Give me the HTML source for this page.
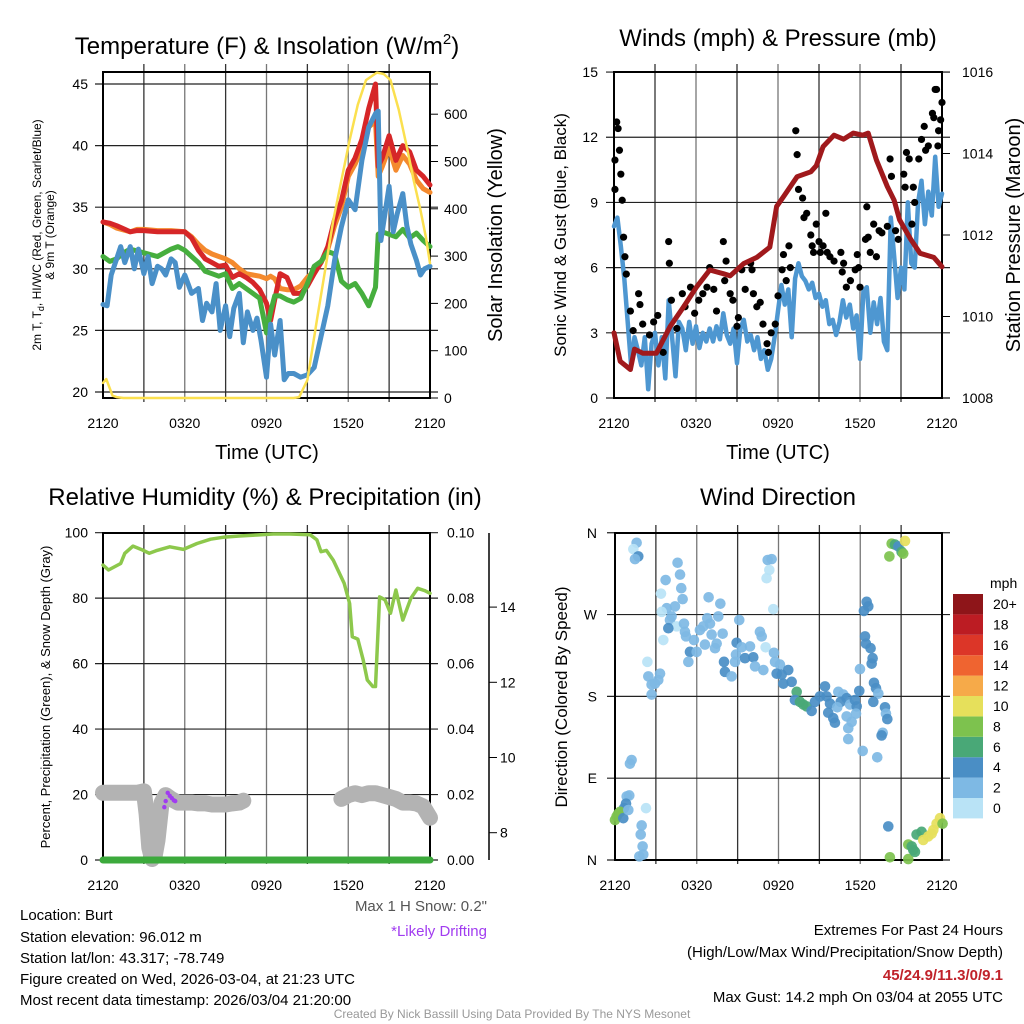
<!DOCTYPE html>
<html><head><meta charset="utf-8"><style>
body{margin:0;background:#fff;}
svg{display:block;font-family:"Liberation Sans",Arial,sans-serif;}
</style></head><body>
<svg id="c" width="1024" height="1024" viewBox="0 0 1024 1024" xmlns="http://www.w3.org/2000/svg">
<rect width="1024" height="1024" fill="#fff"/>
<g id="layer"></g>
<text x="267" y="54" font-size="24" text-anchor="middle">Temperature (F) &amp; Insolation (W/m<tspan font-size="15" dy="-10">2</tspan><tspan dy="10">)</tspan></text>
<text x="778" y="46" font-size="24" text-anchor="middle">Winds (mph) &amp; Pressure (mb)</text>
<text x="265" y="505" font-size="24" text-anchor="middle">Relative Humidity (%) &amp; Precipitation (in)</text>
<text x="778" y="505" font-size="24" text-anchor="middle">Wind Direction</text>
<text x="267" y="459" font-size="20" text-anchor="middle">Time (UTC)</text>
<text x="778" y="459" font-size="20" text-anchor="middle">Time (UTC)</text>
<text transform="translate(41,235) rotate(-90)" font-size="12" text-anchor="middle">2m T, T<tspan font-size="9" dy="3">d</tspan><tspan dy="-3">, HI/WC (Red, Green, Scarlet/Blue)</tspan></text>
<text transform="translate(54,235) rotate(-90)" font-size="12" text-anchor="middle">&amp; 9m T (Orange)</text>
<text transform="translate(502,235) rotate(-90)" font-size="20" text-anchor="middle">Solar Insolation (Yellow)</text>
<text transform="translate(566,235) rotate(-90)" font-size="17" text-anchor="middle">Sonic Wind &amp; Gust (Blue, Black)</text>
<text transform="translate(1020,235) rotate(-90)" font-size="20" text-anchor="middle">Station Pressure (Maroon)</text>
<text transform="translate(50,697) rotate(-90)" font-size="13" text-anchor="middle">Percent, Precipitation (Green), &amp; Snow Depth (Gray)</text>
<text transform="translate(567,697) rotate(-90)" font-size="17" text-anchor="middle">Direction (Colored By Speed)</text>
<text x="487" y="911" font-size="15" fill="#555" text-anchor="end">Max 1 H Snow: 0.2"</text>
<text x="487" y="936" font-size="15" fill="#a13cf0" text-anchor="end">*Likely Drifting</text>
<g font-size="15">
<text x="20" y="920">Location: Burt</text>
<text x="20" y="942">Station elevation: 96.012 m</text>
<text x="20" y="963">Station lat/lon: 43.317; -78.749</text>
<text x="20" y="984">Figure created on Wed, 2026-03-04, at 21:23 UTC</text>
<text x="20" y="1005">Most recent data timestamp: 2026/03/04 21:20:00</text>
</g>
<g font-size="15" text-anchor="end">
<text x="1003" y="935">Extremes For Past 24 Hours</text>
<text x="1003" y="957">(High/Low/Max Wind/Precipitation/Snow Depth)</text>
<text x="1003" y="980" fill="#c0222a" font-weight="bold">45/24.9/11.3/0/9.1</text>
<text x="1003" y="1002">Max Gust: 14.2 mph On 03/04 at 2055 UTC</text>
</g>
<text x="512" y="1018" font-size="12" fill="#999" text-anchor="middle">Created By Nick Bassill Using Data Provided By The NYS Mesonet</text>
</svg>
<script>
var xTickLabels = ['2120','0320','0920','1520','2120'];
var tempTicks = [20,25,30,35,40,45];
var solarTicks = [0,100,200,300,400,500,600];
var windTicks = [0,3,6,9,12,15];
var presTicks = [1008,1010,1012,1014,1016];
var rhTicks = [0,20,40,60,80,100];
var precipTickLabels = ['0.00','0.02','0.04','0.06','0.08','0.10'];
var snowTicks = [8,10,12,14];
var dirTicks = [0,90,180,270,360];
var dirTickLabels = ['N','E','S','W','N'];
var speedLegendLabels = ['0','2','4','6','8','10','12','14','16','18','20+'];

var tHours = [0,0.5,1,2,2.5,3,4,5,6,6.5,7,7.5,8,8.5,9,9.5,10,10.5,11,11.5,12,12.3,12.6,13,13.5,14,14.5,15,15.5,16,16.5,17,17.5,18,18.5,19,19.5,20,20.2,20.5,21,21.5,22,22.5,23,23.5,24];
var tempRed = [33.8,33.7,33.5,33.0,33.1,33.1,33.0,33.0,33.0,32.5,31.5,30.8,30.5,30.2,30.3,29.3,29.6,29.3,28.9,28.3,27.2,25.8,27.5,29.6,29.3,28.0,28.0,28.6,29.6,30.5,31.8,34,35.5,38.0,39,40.5,43,45,38.3,39,40.8,38.8,40.0,39.5,38.0,37.5,36.8];
var tempOrange = [33.8,33.6,33.3,33.0,33.2,33.2,33.1,33.1,33.0,32.6,32.0,31.5,31.2,31.0,30.8,30.5,30.0,29.6,29.5,29.4,29.2,29.4,29.2,28.4,28.3,28.3,28.6,29.3,29.8,30.5,31.6,33.5,35.0,37.5,38.5,39.8,41.5,42,37.5,38.3,39.8,38.0,39.2,38.5,37.2,36.5,36.2];
var gHours = [0,0.5,1,1.5,2,3,4,5,5.5,6,6.5,7,7.5,8,8.5,9,9.5,10,10.5,11,11.5,12,12.3,12.6,13,13.5,14,14.5,15,15.5,16,16.5,17,17.5,18,18.5,19,19.5,20,20.2,20.5,21,21.5,22,22.5,23,23.5,24];
var dewGreen = [31.0,30.6,30.8,31.3,31.6,31.3,31.0,31.6,31.8,31.5,31.0,30.5,29.8,29.6,29.4,29.6,28.4,28.8,28.4,28.0,27.6,24.8,26.5,27.8,27.8,27.5,27.3,27.6,28.8,30.2,30.6,31.4,31.2,29.0,28.5,28.8,28.0,27.0,28.5,32.8,33.0,32.8,32.6,33.2,32.5,32.9,32.3,31.8];
var bHours = [0,0.3,0.6,1,1.3,1.6,2,2.3,2.6,3,3.3,3.6,4,4.3,4.6,5,5.3,5.6,6,6.5,7,7.3,7.6,8,8.3,8.6,9,9.3,9.6,10,10.3,10.6,11,11.3,11.6,12,12.3,12.6,13,13.3,13.6,14,14.5,15,15.5,16,16.5,17,17.5,18,18.5,19,19.5,20,20.2,20.4,20.7,21,21.3,21.6,22,22.3,22.6,23,23.3,23.6,24];
var windChillBlue = [27.1,27.0,29.5,30.8,31.8,30.5,31.8,30.0,31.6,29.6,31.0,28.8,30.2,30.0,29.5,30.8,30.5,28.5,29.5,28.0,28.4,25.8,27.2,26.5,28.8,25.0,27.0,24.5,26.8,28.0,24.0,26.5,25.0,26.0,24.2,21.2,25.5,23.0,25.8,21.0,21.5,21.5,21.2,21.4,22.0,24.5,27.0,30.7,33.4,35.6,34.8,38.8,41.5,42.6,42.8,32.3,34.5,36.7,33.0,34.5,36.1,33.5,32.0,30.7,29.5,30.0,30.2];
var sHours = [0,0.24,0.7,1,1.5,2,14,14.4,15,15.7,16.3,16.9,17.5,18.1,18.7,19.3,20.1,20.6,21.1,21.7,22.3,22.8,23.3,23.7,24];
var solar = [32,40,5,2,0,0,0,2,38,165,270,376,460,545,620,672,688,685,672,610,531,460,397,340,285];

var pHours = [0,0.45,1.2,1.5,2.1,3.1,4.1,5.1,6.05,7.0,8.0,8.5,9.5,10.45,11.4,11.9,12.4,13.4,14.4,14.8,15.3,16.1,16.8,17.5,18.2,18.6,19.2,20,20.5,20.9,21.7,22.4,23.4,24];
var pressure = [1009.6,1008.9,1008.7,1009.2,1009.1,1009.1,1009.75,1010.24,1010.73,1011.14,1011.05,1011.0,1011.3,1011.45,1011.7,1012.7,1012.94,1013.43,1013.55,1013.7,1014.17,1014.45,1014.35,1014.5,1014.45,1014.5,1013.84,1013.19,1012.85,1012.37,1011.9,1011.55,1011.45,1011.22];
var wHours = [0,0.25,0.5,0.75,1,1.25,1.5,1.75,2,2.25,2.5,2.75,3,3.25,3.5,3.75,4,4.25,4.5,4.75,5,5.25,5.5,5.75,6,6.25,6.5,6.75,7,7.25,7.5,7.75,8,8.25,8.5,8.75,9,9.25,9.5,9.75,10,10.25,10.5,10.75,11,11.25,11.5,11.75,12,12.25,12.5,12.75,13,13.25,13.5,13.75,14,14.25,14.5,14.75,15,15.25,15.5,15.75,16,16.25,16.5,16.75,17,17.25,17.5,17.75,18,18.25,18.5,18.75,19,19.25,19.5,19.75,20,20.25,20.5,20.75,21,21.25,21.5,21.75,22,22.25,22.5,22.75,23,23.25,23.5,23.75,24];
var windSpeed = [7.9,8.3,7.0,5.5,3.5,1.5,2.8,2.2,1.5,2.8,0.4,2.5,3.0,1.5,2.8,0.9,4.5,2.8,1.0,3.5,3.2,2.2,3.5,2.5,3.3,2.3,3.0,2.6,3.2,2.6,3.3,2.7,3.9,2.9,2.5,3.2,1.6,3.2,3.6,2.6,2.9,2.2,2.8,1.8,2.2,1.3,1.8,2.8,4.0,5.2,4.3,5.0,2.8,5.5,6.2,5.6,5.4,5.0,5.3,4.6,4.8,4.2,4.5,3.4,3.6,2.9,3.5,4.5,3.7,4.3,3.2,3.8,1.8,4.9,5.1,3.0,4.4,3.4,4.6,2.6,2.2,8.3,6.5,4.6,6.0,5.0,9.0,6.2,6.0,9.0,10.0,8.0,9.5,8.4,11.1,8.8,9.4];
var gustHours = [0.07,0.2,0.3,0.4,0.5,0.07,0.6,0.7,0.8,0.9,1.2,1.4,1.8,1.9,2.1,2.6,2.9,3.2,3.6,4.0,4.05,4.2,4.6,5,5.2,5.6,5.9,6.2,6.5,6.8,7.0,7.3,7.5,8.0,8.1,8.2,8.5,8.7,9.0,9.1,9.35,9.6,10.0,10.1,10.2,10.45,10.7,10.9,11.2,11.3,11.5,11.8,12.0,12.3,12.4,12.6,12.8,12.9,13.3,13.4,13.5,13.8,13.9,14.1,14.4,14.5,14.6,14.8,15.0,15.1,15.3,15.5,15.6,15.8,16.1,16.6,16.7,16.8,17.0,17.3,17.65,17.8,17.9,18.0,18.4,18.5,18.6,18.75,19.0,19.2,19.4,19.6,20.0,20.2,20.3,20.6,20.8,21.2,21.3,21.4,21.6,21.8,21.9,22.0,22.3,22.5,22.7,22.8,23.0,23.3,23.4,23.5,23.6,23.75,23.9,24.0,23.7];
var gusts = [10.95,12.7,12.4,11.4,10.3,9.6,9.1,7.4,6.5,5.7,4.0,3.1,4.8,4.3,3.4,2.9,3.5,3.8,2.1,7.2,6.2,4.5,3.2,4.8,4.2,5.1,3.9,4.5,4.8,5.1,6.0,5.0,4.0,7.2,5.4,6.3,4.8,4.5,3.3,3.7,5.9,5.0,6.2,5.9,4.8,4.2,4.4,3.4,2.5,2.1,3.0,3.4,4.7,5.9,6.6,5.4,7.0,6.0,12.3,11.2,9.6,9.2,8.3,8.5,7.5,7.0,6.7,8.0,7.2,6.7,7.0,8.5,6.7,6.5,6.3,6.7,5.8,6.2,5.1,5.4,5.9,6.6,6.0,5.1,7.3,8.8,7.4,6.7,8.0,6.5,7.7,7.6,7.9,11.0,10.2,7.7,7.3,10.3,9.7,11.3,11.0,8.0,9.7,9.0,11.0,11.9,12.5,11.4,11.6,13.1,12.9,14.2,14.2,12.3,12.8,13.6,11.6];

var rhHours = [0,0.4,1.3,1.6,2.2,2.9,3.4,3.9,4.9,5.9,6.9,7.9,8.8,10.0,11.3,12.5,13.7,15.2,15.7,16.0,16.4,16.9,17.7,18.1,18.3,18.7,19.1,19.4,19.8,20.0,20.3,20.7,21.1,21.5,22.0,22.6,23.1,23.6,24];
var rh = [90.1,88.6,90.6,93.7,95.9,94.7,93.7,94.5,95.7,94.9,96.7,98,98.6,99,99.3,99.6,99.6,99.4,97.8,94.2,94.6,91.6,84.5,78.4,68.2,67.5,61.1,55,53,53,80.4,79.5,75.4,82.5,73.3,80,83,82.3,81.5];
var precipHours = [0,6,12,18,24];
var precip = [0,0,0,0,0];
var snowHoursA = [0,0.5,1,1.5,2,2.5,3,3.2,3.4,3.6,3.8,4,4.3,4.6,5,5.5,6,6.5,7,7.5,8,8.5,9,9.5,10,10.3];
var snowA = [9.06,9.06,9.06,9.06,9.06,9.06,9.1,8.5,7.6,7.3,7.4,7.8,8.8,9.0,8.9,8.8,8.8,8.8,8.78,8.78,8.75,8.75,8.75,8.78,8.8,8.85];
var snowHoursB = [17.5,18,18.5,19,19.5,20,20.5,21,21.5,22,22.5,23,23.5,24];
var snowB = [8.9,9.0,9.05,9.0,9.05,9.05,9.0,8.95,8.9,8.8,8.8,8.78,8.7,8.4];
var driftHours = [4.5,4.6,4.75,4.9,5.05,5.2,5.3];
var driftSnow = [8.68,8.84,9.06,8.98,8.92,8.86,8.84];

var dirHours = [1.59,1.35,1.71,1.47,4.60,4.78,3.72,4.87,3.38,4.97,6.88,7.74,3.80,4.41,3.43,4.16,4.04,4.53,3.92,5.07,5.14,5.22,3.55,5.80,5.51,5.39,6.00,6.24,6.49,6.78,6.98,7.10,6.61,7.47,7.35,7.59,7.91,9.13,8.94,8.89,9.31,9.92,9.55,10.16,10.29,10.65,10.78,10.90,11.07,8.01,8.08,8.57,8.82,11.68,11.76,12.12,11.88,12.25,12.37,12.73,12.98,13.35,13.22,13.59,13.84,14.08,14.45,14.69,15.06,15.43,15.55,15.80,15.67,16.04,16.16,16.41,16.78,16.58,17.02,17.27,16.33,17.63,17.76,17.71,17.39,17.02,17.14,17.14,17.95,18.0,18.2,19.03,19.18,19.35,18.98,19.27,19.84,19.91,20.01,19.67,19.59,18.37,18.44,18.78,18.93,18.86,18.49,18.61,18.29,11.22,11.51,11.34,11.14,11.63,2.45,2.69,2.94,3.18,3.31,2.69,2.38,1.10,1.22,0.86,1.05,0.81,0.66,0.37,0.24,0.12,0.0,0.61,0.98,2.28,1.96,1.89,2.03,1.79,2.08,20.33,20.57,20.82,21.06,21.31,20.16,21.18,20.08,20.2,21.55,21.55,21.92,22.04,22.16,22.53,22.65,23.02,23.27,23.39,23.63,23.88,24.07,21.8];
var dirDeg = [349,342,334,331,327,314,308,299,293,287,289,282,277,279,273,268,264,257,255,260,251,246,242,242,229,218,229,253,257,266,260,248,237,238,233,268,249,264,239,226,234,235,222,223,213,251,246,209,234,218,207,202,218,228,218,215,205,204,194,209,196,185,176,174,171,169,164,174,180,191,180,172,162,156,151,185,182,174,178,171,168,176,169,161,152,158,145,133,186,210,120,195,189,183,174,113,168,161,155,140,137,246,238,233,222,216,284,279,274,330,331,319,310,276,202,193,194,198,205,182,218,106,110,70,71,62,57,53,51,48,44,46,55,57,38,28,15,4,6,348,347,345,339,351,334,337,37,3,1,17,11,9,28,31,22,26,29,33,40,46,40,15];
var dirSpeed = [3,1,5,3,3,3,3,3,1,3,3,3,3,3,1,3,3,1,5,3,3,3,1,3,5,3,3,3,3,3,3,3,3,3,3,3,3,3,5,3,3,3,5,5,3,3,3,3,1,5,5,3,3,3,3,3,5,5,5,5,5,7,5,7,7,7,5,5,5,5,5,5,5,5,5,3,3,5,5,3,3,5,5,3,3,3,3,3,5,3,3,5,5,3,5,3,5,3,5,3,5,5,5,5,5,5,5,5,5,3,3,1,1,1,3,3,3,3,3,3,1,3,3,3,3,5,5,9,9,9,9,5,3,1,3,3,3,3,3,9,7,5,7,11,9,9,5,9,9,9,7,7,7,7,11,11,11,11,11,11,9,7];
var speedColors = ['#b9e3f6','#7eb9e4','#4a8ec5','#49a877','#7dc24e','#e6e05b','#f6aa49','#ef6430','#dc3628','#bc1c23','#8e1519'];

var NS='http://www.w3.org/2000/svg';
var layer=document.getElementById('layer');
function el(tag,attrs,parent){var e=document.createElementNS(NS,tag);for(var k in attrs)e.setAttribute(k,attrs[k]);(parent||layer).appendChild(e);return e;}
function x1(h){return 103+h*13.625;} function yT(t){return 392-(t-20)*12.32;} function yS(s){return 398-s*0.473;}
function x2(h){return 614+h*13.667;} function yW(w){return 398-w*21.73;} function yP(p){return 398-(p-1008)*40.75;}
function x3(h){return 103+h*13.625;} function yR(r){return 860-r*3.273;} function ySn(s){return 832.7-(s-8)*37.6;} function yPr(p){return 860-p*1000*3.273;}
function x4(h){return 615+h*13.61;} function yD(d){return 860-d*0.909;}
function pts(hs,vs,fx,fy){return hs.map(function(h,i){return fx(h).toFixed(1)+','+fy(vs[i]).toFixed(1);}).join(' ');}

function frame(L,T,R,B,ys,name){
  for(var i=1;i<8;i++){var gx=L+(R-L)*i/8;
    var g=el('line',{x1:gx,y1:T-8,x2:gx,y2:B+4,stroke:i%2?'#333':'#777','stroke-width':1.3});
    
    }
  ys.forEach(function(y){var g=el('line',{x1:L-8,y1:y,x2:R+8,y2:y,stroke:'#222','stroke-width':1.2});
    
    });
  var f=el('rect',{x:L,y:T,width:R-L,height:B-T,fill:'none',stroke:'#000','stroke-width':2});
  
  
  xTickLabels.forEach(function(lb,i){var tx=el('text',{x:L+(R-L)*i/4,y:B+30,'font-size':14,'text-anchor':'middle'});tx.textContent=lb;
    
    });
}
function txt(x,y,s,anchor,name){var t=el('text',{x:x,y:y,'font-size':14,'text-anchor':anchor});t.textContent=s;
  
  return t;}
function line(p,color,w,name){var l=el('polyline',{points:p,fill:'none',stroke:color,'stroke-width':w,'stroke-linejoin':'round','stroke-linecap':'round'});
  
  return l;}

frame(103,72,430,398,tempTicks.map(yT),'temp');
tempTicks.forEach(function(t){txt(88,yT(t)+5,String(t),'end','temp-y-tick-label');});
solarTicks.forEach(function(s){txt(444,yS(s)+5,String(s),'start','solar-y-tick-label');
  var tk=el('line',{x1:430,y1:yS(s),x2:438,y2:yS(s),stroke:'#000'});
  
  });
line(pts(tHours,tempOrange,x1,yT),'#f48a2e',5,'temp-9m-orange-line');
line(pts(tHours,tempRed,x1,yT),'#d62628',5,'temp-2m-red-line');
line(pts(gHours,dewGreen,x1,yT),'#46ae3e',5,'dewpoint-green-line');
line(pts(bHours,windChillBlue,x1,yT),'#4a90c8',5,'windchill-blue-line');
line(pts(sHours,solar,x1,yS),'#fbe04f',2.5,'solar-yellow-line');

frame(614,72,942,398,windTicks.map(yW),'wind');
windTicks.forEach(function(w){txt(598,yW(w)+5,String(w),'end','wind-y-tick-label');});
presTicks.forEach(function(p){txt(962,yP(p)+5,String(p),'start','pressure-y-tick-label');
  var tk=el('line',{x1:942,y1:yP(p),x2:950,y2:yP(p),stroke:'#000'});
  
  });
line(pts(wHours,windSpeed,x2,yW),'#4e97d1',4.5,'wind-speed-blue-line');
gustHours.forEach(function(h,i){var c=el('circle',{cx:x2(h),cy:yW(gusts[i]),r:3.6,fill:'#000'});
  
  });
line(pts(pHours,pressure,x2,yP),'#a0191c',5,'pressure-maroon-line');

frame(103,533,430,860,rhTicks.map(yR),'rh');
rhTicks.forEach(function(r,i){txt(88,yR(r)+5,String(r),'end','rh-y-tick-label');
  txt(447,yR(r)+5,precipTickLabels[i],'start','precip-y-tick-label');});
var sa=el('line',{x1:489,y1:533,x2:489,y2:860,stroke:'#000','stroke-width':1.5});


snowTicks.forEach(function(s){txt(500,ySn(s)+5,String(s),'start','snow-y-tick-label');
  var tk=el('line',{x1:489,y1:ySn(s),x2:497,y2:ySn(s),stroke:'#000'});
  
  });
line(pts(snowHoursA,snowA,x3,ySn),'#b3b3b3',16,'snow-depth-gray-a');
line(pts(snowHoursB,snowB,x3,ySn),'#b3b3b3',16,'snow-depth-gray-b');
driftHours.forEach(function(h,i){var c=el('circle',{cx:x3(h),cy:ySn(driftSnow[i]),r:2.2,fill:'#a13cf0'});
  
  });
line(pts(rhHours,rh,x3,yR),'#8dc84c',3.5,'rh-green-line');
line(pts(precipHours,precip,x3,yPr),'#3caa3c',7,'precip-green-line');

frame(615,533,942,860,dirTicks.map(yD),'dir');
dirTicks.forEach(function(d,i){txt(597,yD(d)+5,dirTickLabels[i],'end','dir-y-tick-label');});
dirHours.forEach(function(h,i){var c=el('circle',{cx:x4(h),cy:yD(dirDeg[i]),r:5.3,fill:speedColors[Math.min(10,Math.floor(dirSpeed[i]/2))],opacity:0.92});
  
  });
txt(990,588,'mph','start','speed-legend-title');
speedLegendLabels.forEach(function(lb,i){var y=798-i*20.4;
  var r=el('rect',{x:953,y:y,width:30,height:20.4,fill:speedColors[i]});
  
  
  txt(993,y+15,lb,'start','speed-legend-label');});
</script>
</body></html>
